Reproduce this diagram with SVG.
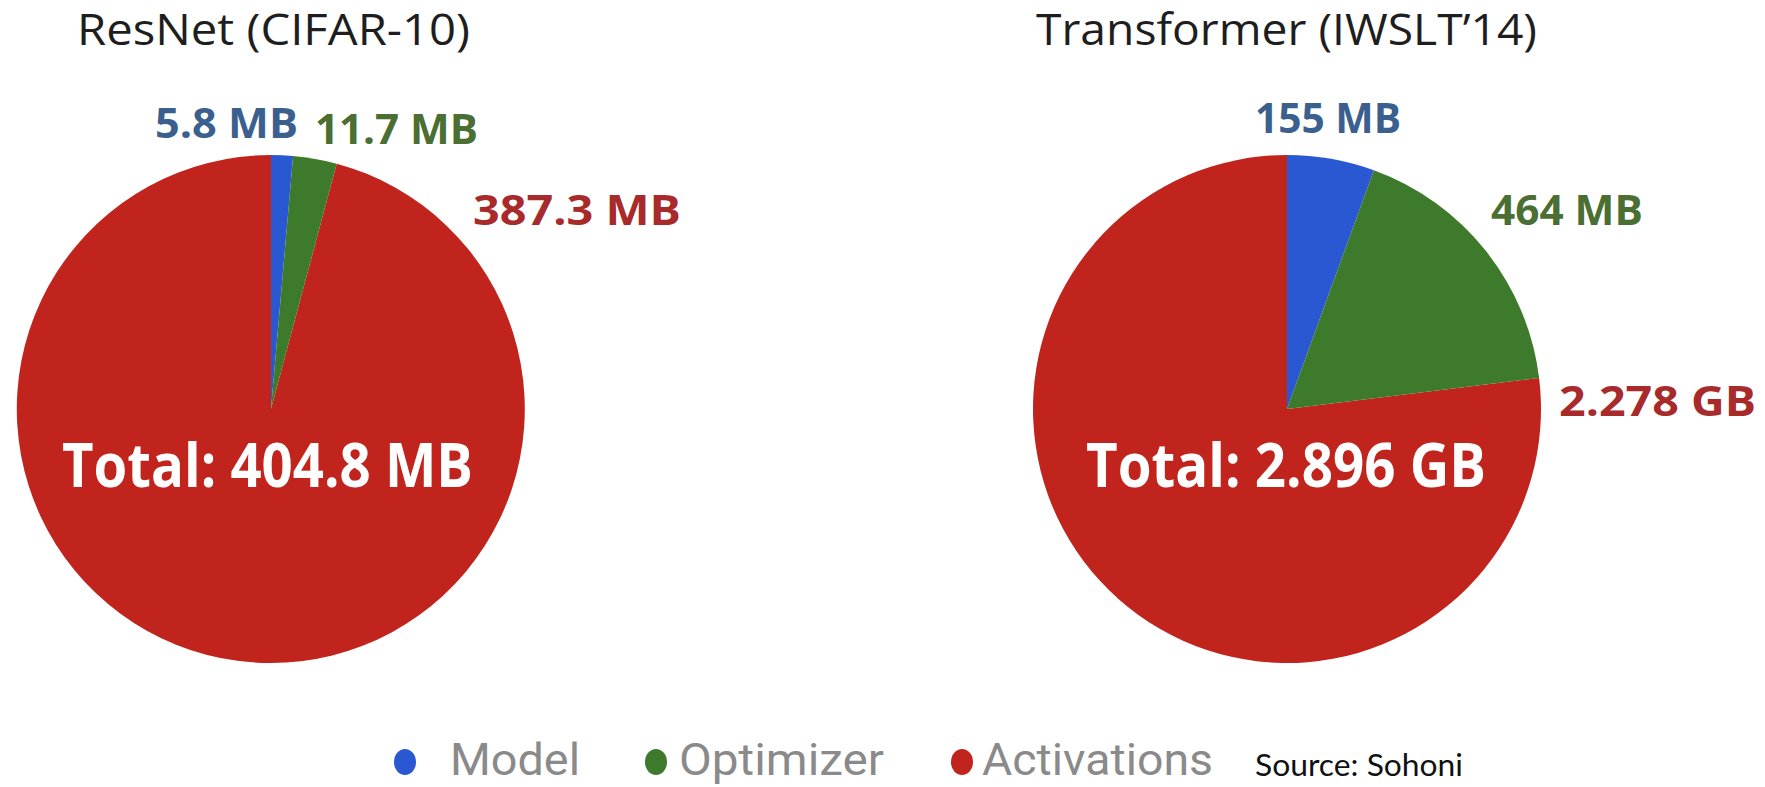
<svg xmlns="http://www.w3.org/2000/svg" width="1765" height="787" viewBox="0 0 1765 787">
<style>
.title{font-family:"Open Sans","Liberation Sans",sans-serif;font-size:44px;fill:#1e1e1e}
.lbl{font-family:"Open Sans","Liberation Sans",sans-serif;font-weight:bold;font-size:42px}
.tot{font-family:"Open Sans","Liberation Sans",sans-serif;font-weight:bold;font-size:60px;fill:#ffffff}
.leg{font-family:Roboto,"Liberation Sans",sans-serif;font-size:44px;fill:#8a8a8a}
.src{font-family:Lato,"Liberation Sans",sans-serif;font-size:30px;fill:#111}
.red{fill:#C0241C}.blue{fill:#2A58D2}.green{fill:#3E7A2C}
</style>
<rect width="1765" height="787" fill="#ffffff"/>
<g id="resnet">
<text class="title" x="77" y="45" textLength="393" lengthAdjust="spacingAndGlyphs">ResNet (CIFAR-10)</text>
<path class="red" d="M271,409 L336.7,163.7 A254,254 0 1 1 271,155 Z"/>
<path class="blue" d="M271,409 L271,155 A254,254 0 0 1 293.1,156 Z"/>
<path class="green" d="M271,409 L293.1,156 A254,254 0 0 1 336.7,163.7 Z"/>
<text class="lbl" x="155" y="138" fill="#3B5F8E" textLength="143" lengthAdjust="spacingAndGlyphs">5.8 MB</text>
<text class="lbl" x="315" y="144" fill="#4B6E32" textLength="163" lengthAdjust="spacingAndGlyphs">11.7 MB</text>
<text class="lbl" x="473" y="225" fill="#A82A2A" textLength="208" lengthAdjust="spacingAndGlyphs">387.3 MB</text>
<text class="tot" x="62" y="487" textLength="411" lengthAdjust="spacingAndGlyphs">Total: 404.8 MB</text>
</g>
<g id="transformer">
<text class="title" x="1036" y="45" textLength="501" lengthAdjust="spacingAndGlyphs">Transformer (IWSLT’14)</text>
<path class="red" d="M1287,409 L1539.1,378 A254,254 0 1 1 1287,155 Z"/>
<path class="blue" d="M1287,409 L1287,155 A254,254 0 0 1 1373.9,170.3 Z"/>
<path class="green" d="M1287,409 L1373.9,170.3 A254,254 0 0 1 1539.1,378 Z"/>
<text class="lbl" x="1255" y="133" fill="#3B5F8E" textLength="146" lengthAdjust="spacingAndGlyphs">155 MB</text>
<text class="lbl" x="1491" y="225" fill="#4B6E32" textLength="152" lengthAdjust="spacingAndGlyphs">464 MB</text>
<text class="lbl" x="1559" y="416" fill="#A82A2A" textLength="197" lengthAdjust="spacingAndGlyphs">2.278 GB</text>
<text class="tot" x="1086" y="487" textLength="400" lengthAdjust="spacingAndGlyphs">Total: 2.896 GB</text>
</g>
<g id="legend">
<ellipse class="blue" cx="405" cy="762" rx="11" ry="13"/>
<text class="leg" x="450" y="775" textLength="130" lengthAdjust="spacingAndGlyphs">Model</text>
<ellipse class="green" cx="656" cy="762" rx="11" ry="13"/>
<text class="leg" x="679" y="775" textLength="205" lengthAdjust="spacingAndGlyphs">Optimizer</text>
<ellipse class="red" cx="962" cy="762" rx="11" ry="13"/>
<text class="leg" x="982" y="775" textLength="231" lengthAdjust="spacingAndGlyphs">Activations</text>
<text class="src" x="1255" y="776" textLength="208" lengthAdjust="spacingAndGlyphs">Source: Sohoni</text>
</g>
<g id="connectors"/>
</svg>
